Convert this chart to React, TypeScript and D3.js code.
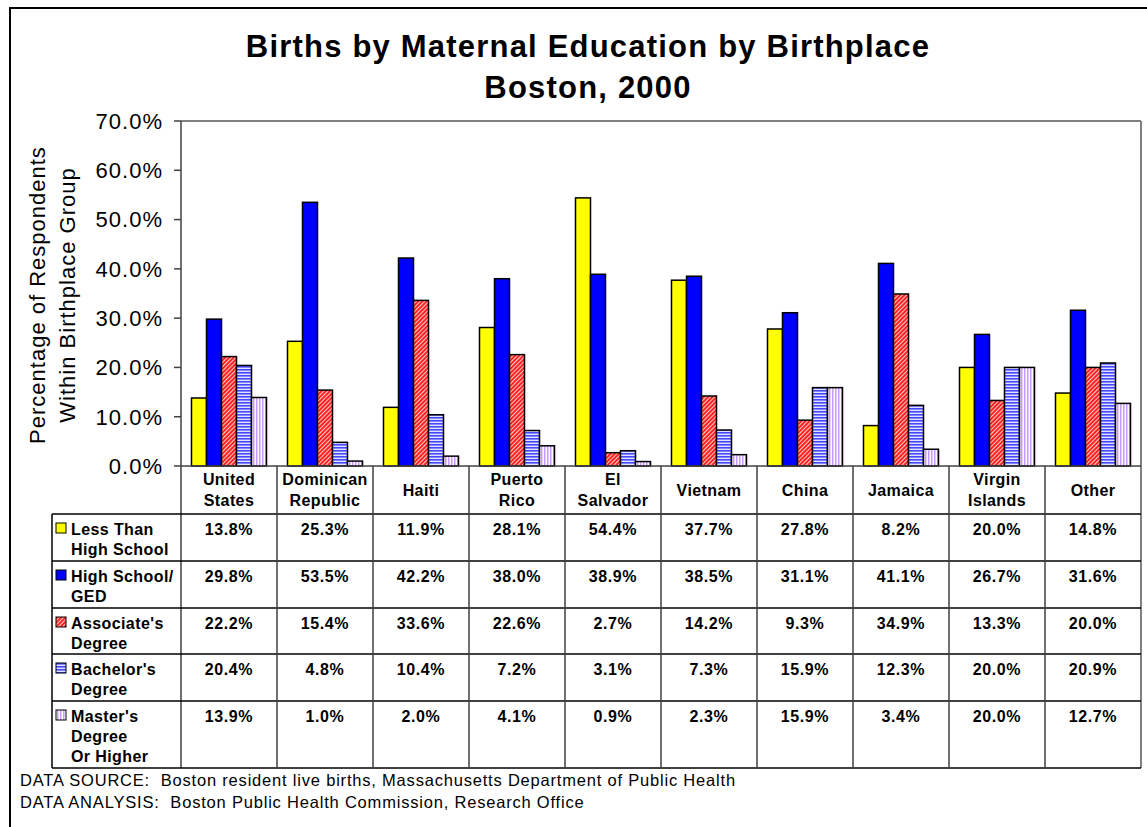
import React from 'react';
import { scaleBand, scaleLinear, range } from 'd3';

const birthplaces = [
  ['United', 'States'],
  ['Dominican', 'Republic'],
  ['Haiti'],
  ['Puerto', 'Rico'],
  ['El', 'Salvador'],
  ['Vietnam'],
  ['China'],
  ['Jamaica'],
  ['Virgin', 'Islands'],
  ['Other'],
];

const seriesNames = [
  ['Less Than', 'High School'],
  ['High School/', 'GED'],
  ["Associate's", 'Degree'],
  ["Bachelor's", 'Degree'],
  ["Master's", 'Degree', 'Or Higher'],
];

const lessThanHS = [13.8, 25.3, 11.9, 28.1, 54.4, 37.7, 27.8, 8.2, 20.0, 14.8];
const highSchool = [29.8, 53.5, 42.2, 38.0, 38.9, 38.5, 31.1, 41.1, 26.7, 31.6];
const associates = [22.2, 15.4, 33.6, 22.6, 2.7, 14.2, 9.3, 34.9, 13.3, 20.0];
const bachelors = [20.4, 4.8, 10.4, 7.2, 3.1, 7.3, 15.9, 12.3, 20.0, 20.9];
const masters = [13.9, 1.0, 2.0, 4.1, 0.9, 2.3, 15.9, 3.4, 20.0, 12.7];

const series = [lessThanHS, highSchool, associates, bachelors, masters];
const yTicks = [0, 10, 20, 30, 40, 50, 60, 70];

const fills = ['#FFFF00', '#0000FF', 'url(#pAssoc)', 'url(#pBach)', 'url(#pMast)'];
const font = 'Arial, "Liberation Sans", sans-serif';

const plot = { left: 181, right: 1141, top: 121, bottom: 466 };
const tableLeft = 52;
const rowLines = [466, 514, 561, 608, 654, 701, 768];

export default function App() {
  const x = scaleBand<number>()
    .domain(range(birthplaces.length))
    .range([plot.left, plot.right]);
  const xInner = scaleBand<number>()
    .domain(range(series.length))
    .range([0, x.bandwidth()])
    .paddingOuter(0.7)
    .paddingInner(0);
  const y = scaleLinear().domain([0, 70]).range([plot.bottom, plot.top]);
  const cx = (i: number) => (x(i) as number) + x.bandwidth() / 2;

  return (
    <div style={{ position: 'absolute', left: 0, top: 0 }}>
      <svg width={1147} height={827} style={{ display: 'block', fontFamily: font }}>
        <defs>
          <pattern id='pAssoc' width={3} height={3} patternUnits='userSpaceOnUse'
            patternTransform='rotate(45)'>
            <rect width={3} height={3} fill='#FF1A1A' />
            <rect width={1.1} height={3} fill='#FFC8C8' />
          </pattern>
          <pattern id='pBach' width={4} height={3} patternUnits='userSpaceOnUse'>
            <rect width={4} height={3} fill='#E0E0FF' />
            <rect width={4} height={1.6} fill='#4848FF' />
          </pattern>
          <pattern id='pMast' width={3} height={4} patternUnits='userSpaceOnUse'>
            <rect width={3} height={4} fill='#FFFFFF' />
            <rect width={1.5} height={4} fill='#CC99FF' />
          </pattern>
        </defs>
        <rect x={0} y={0} width={1147} height={827} fill='white' />
        <rect x={10} y={8} width={1200} height={900} fill='none' stroke='black' strokeWidth={2} />

        <g fontSize={31} fontWeight='bold' letterSpacing={1.2} textAnchor='middle'>
          <text x={588} y={57}>Births by Maternal Education by Birthplace</text>
          <text x={588} y={98}>Boston, 2000</text>
        </g>

        {/* y axis title */}
        <g transform='translate(45, 295) rotate(-90)' fontSize={22} letterSpacing={1}>
          <text x={0} y={0} textAnchor='middle'>Percentage of Respondents</text>
          <text x={0} y={30} textAnchor='middle'>Within Birthplace Group</text>
        </g>

        {/* plot frame */}
        <line x1={plot.left} x2={plot.right} y1={plot.top} y2={plot.top} stroke='#808080' strokeWidth={2} />
        <line x1={plot.right} x2={plot.right} y1={plot.top} y2={rowLines[rowLines.length - 1]} stroke='#808080' strokeWidth={2} />
        <line x1={plot.left} x2={plot.left} y1={plot.top} y2={rowLines[rowLines.length - 1]} stroke='#404040' strokeWidth={1.5} />

        {yTicks.map(t => (
          <g key={t} transform={`translate(0, ${y(t)})`}>
            <line x1={plot.left - 7} x2={plot.left} stroke='#404040' strokeWidth={1.5} />
            <text x={163} dy='0.36em' textAnchor='end' fontSize={22} letterSpacing={1}>
              {t.toFixed(1)}%
            </text>
          </g>
        ))}

        {/* bars */}
        {birthplaces.map((_, i) => (
          <g key={i} transform={`translate(${x(i)}, 0)`}>
            {series.map((s, j) => (
              <rect
                key={j}
                x={xInner(j)}
                y={y(s[i])}
                width={xInner.bandwidth()}
                height={y(0) - y(s[i])}
                fill={fills[j]}
                stroke='black'
                strokeWidth={1.5}
              />
            ))}
          </g>
        ))}

        {/* data table */}
        {rowLines.map((ry, k) => (
          <line key={ry} x1={k === 0 ? plot.left : tableLeft} x2={plot.right} y1={ry} y2={ry}
            stroke={k === 0 ? '#404040' : 'black'} strokeWidth={1.5} />
        ))}
        <line x1={tableLeft} x2={tableLeft} y1={rowLines[1]} y2={rowLines[rowLines.length - 1]}
          stroke='black' strokeWidth={1.5} />
        {birthplaces.map((_, i) => i > 0 && (
          <line key={i} x1={x(i)} x2={x(i)} y1={rowLines[0]} y2={rowLines[rowLines.length - 1]}
            stroke='#404040' strokeWidth={1.5} />
        ))}

        <g fontSize={16} fontWeight='bold' letterSpacing={0.4}>
          {birthplaces.map((lines, i) => (
            <text key={i} textAnchor='middle'>
              {lines.map((l, k) => (
                <tspan key={k} x={cx(i)} y={lines.length === 1 ? 496 : 485 + k * 21}>{l}</tspan>
              ))}
            </text>
          ))}

          {seriesNames.map((lines, j) => (
            <g key={j} transform={`translate(0, ${rowLines[j + 1]})`}>
              <rect x={56} y={9} width={10} height={10} fill={fills[j]} stroke='black' strokeWidth={1} />
              <text>
                {lines.map((l, k) => (
                  <tspan key={k} x={71} y={21 + k * 20}>{l}</tspan>
                ))}
              </text>
              {series[j].map((v, i) => (
                <text key={i} x={cx(i)} y={21} textAnchor='middle' letterSpacing={0.6}>
                  {v.toFixed(1)}%
                </text>
              ))}
            </g>
          ))}
        </g>

        <g fontSize={16.5} letterSpacing={0.8}>
          <text x={20} y={786}>
            {'DATA SOURCE:\u00A0\u00A0Boston resident live births, Massachusetts Department of Public Health'}
          </text>
          <text x={20} y={808}>
            {'DATA ANALYSIS:\u00A0\u00A0Boston Public Health Commission, Research Office'}
          </text>
        </g>
      </svg>
    </div>
  );
}
